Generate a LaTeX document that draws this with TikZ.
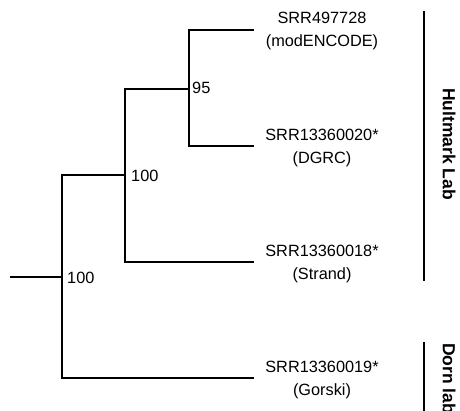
\documentclass[tikz,border=0pt]{standalone}
\usepackage{fontspec}
\setmainfont{Liberation Sans}
\begin{document}
\begin{tikzpicture}[x=1pt,y=-1pt,
  branch/.style={line width=2pt, line cap=rect},
  bar/.style={line width=1.6pt},
  leaf/.style={align=center, font=\fontsize{16.3}{23}\selectfont, inner sep=0pt},
  support/.style={anchor=west, font=\fontsize{16.3}{20}\selectfont, inner sep=0pt},
  grp/.style={rotate=-90, font=\bfseries\fontsize{17.5}{20}\selectfont, inner sep=0pt}]
\useasboundingbox (0,0) rectangle (460,410);
% tree coordinates
\coordinate (start) at (11,277);
\coordinate (root) at (62,277);
\coordinate (rootT) at (62,175);
\coordinate (rootB) at (62,378);
\coordinate (n100) at (125,175);
\coordinate (n100T) at (125,89);
\coordinate (n100B) at (125,262);
\coordinate (n95) at (189,89);
\coordinate (n95T) at (189,30);
\coordinate (n95B) at (189,146);
\coordinate (t1) at (253,30);
\coordinate (t2) at (253,146);
\coordinate (t3) at (253,262);
\coordinate (t4) at (253,378);
% branches
\draw[branch] (start) -- (root);
\draw[branch] (rootT) -- (rootB);
\draw[branch] (rootT) -- (n100);
\draw[branch] (rootB) -- (t4);
\draw[branch] (n100T) -- (n100B);
\draw[branch] (n100T) -- (n95);
\draw[branch] (n100B) -- (t3);
\draw[branch] (n95T) -- (n95B);
\draw[branch] (n95T) -- (t1);
\draw[branch] (n95B) -- (t2);
% support values
\node[support] (s95) at (192,88) {95};
\node[support] (s100a) at (131,176) {100};
\node[support] (s100b) at (67,278) {100};
% leaf labels
\node[leaf] (l1) at (322,31) {SRR497728\\(modENCODE)};
\node[leaf] (l2) at (322,148) {SRR13360020*\\(DGRC)};
\node[leaf] (l3) at (322,263.5) {SRR13360018*\\(Strand)};
\node[leaf] (l4) at (322,380) {SRR13360019*\\(Gorski)};
% group bars
\coordinate (h1) at (424,11);
\coordinate (h2) at (424,281);
\coordinate (d1) at (424,342);
\coordinate (d2) at (424,412);
\draw[bar] (h1) -- (h2);
\draw[bar] (d1) -- (d2);
\node[grp] (hult) at (449,144) {Hultmark Lab};
\node[grp, anchor=west] (dorn) at (449,343) {Dorn lab};
\end{tikzpicture}
\end{document}
